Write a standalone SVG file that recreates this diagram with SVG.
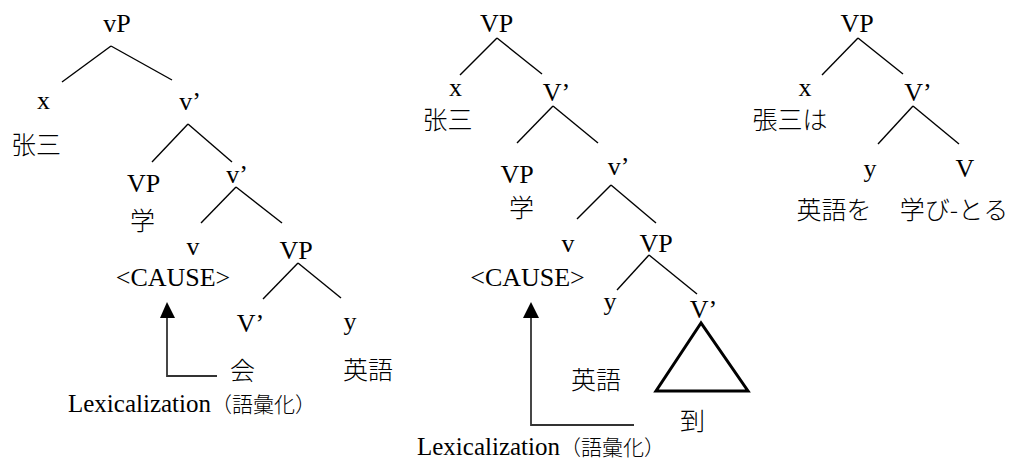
<svg xmlns="http://www.w3.org/2000/svg" width="1012" height="460" viewBox="0 0 1012 460">
<style>
text{font-family:"Liberation Serif","Noto Sans CJK JP",serif;font-size:26px;fill:#000;text-anchor:middle}
.cjk{font-family:"Noto Sans CJK JP","Noto Sans CJK SC",sans-serif;font-size:25px;font-weight:300}
.lab{text-anchor:start;font-size:25px}
.labc{font-family:"Noto Sans CJK JP",sans-serif;font-size:21px;font-weight:300}
.edge{stroke:#000;stroke-width:1.4;fill:none}
.arr{stroke:#333;stroke-width:1.8;fill:none}
.tri{stroke:#000;stroke-width:3;fill:none;stroke-linejoin:miter}
</style>
<rect width="1012" height="460" fill="#fff"/>
<g id="connectors">
<g class="edge">
<line x1="111" y1="46" x2="62" y2="82"/>
<line x1="111" y1="46" x2="172" y2="80"/>
<line x1="188" y1="124" x2="152" y2="162"/>
<line x1="188" y1="124" x2="232" y2="162"/>
<line x1="236" y1="187" x2="201" y2="223"/>
<line x1="236" y1="187" x2="282" y2="223"/>
<line x1="298" y1="263" x2="263" y2="299"/>
<line x1="298" y1="263" x2="341" y2="298"/>
<line x1="497" y1="38" x2="460" y2="75"/>
<line x1="497" y1="38" x2="542" y2="74"/>
<line x1="553" y1="106" x2="517" y2="143"/>
<line x1="553" y1="106" x2="598" y2="143"/>
<line x1="611" y1="185" x2="577" y2="219"/>
<line x1="611" y1="185" x2="656" y2="223"/>
<line x1="649" y1="255" x2="617" y2="290"/>
<line x1="649" y1="255" x2="697" y2="294"/>
<line x1="858" y1="38" x2="822" y2="75"/>
<line x1="858" y1="38" x2="903" y2="74"/>
<line x1="913" y1="106" x2="878" y2="144"/>
<line x1="913" y1="106" x2="959" y2="144"/>
</g>
<polygon class="tri" points="701,323 656,391 748,391"/>
<path class="arr" d="M217,376 H167 V316"/>
<polygon points="167,302 160,318 175,318" fill="#000"/>
<path class="arr" d="M634,425 H531 V316"/>
<polygon points="531,302 523,318 539,318" fill="#000"/>
</g>
<g id="tree1">
<g id="t1-vP"><text x="117" y="32">vP</text></g>
<g id="t1-x"><text x="43.5" y="109">x</text><text class="cjk" x="36" y="154">张三</text></g>
<g id="t1-v1"><text x="190" y="110">v’</text></g>
<g id="t1-VP"><text x="143.5" y="192">VP</text><text class="cjk" x="142.5" y="230">学</text></g>
<g id="t1-v2"><text x="237" y="183">v’</text></g>
<g id="t1-v"><text x="193" y="255">v</text><text x="173" y="286">&lt;CAUSE&gt;</text></g>
<g id="t1-VP2"><text x="296" y="259">VP</text></g>
<g id="t1-V1"><text x="250.5" y="332">V’</text><text class="cjk" x="242.5" y="380">会</text></g>
<g id="t1-y"><text x="350" y="330">y</text><text class="cjk" x="368" y="379">英語</text></g>
<g id="t1-label"><text class="lab" x="68" y="412">Lexicalization<tspan class="labc">（語彙化）</tspan></text></g>
</g>
<g id="tree2">
<g id="t2-VP"><text x="496.5" y="32">VP</text></g>
<g id="t2-x"><text x="455.5" y="96">x</text><text class="cjk" x="447.5" y="129">张三</text></g>
<g id="t2-V1"><text x="556.5" y="101">V’</text></g>
<g id="t2-VP2"><text x="517" y="183">VP</text><text class="cjk" x="521.5" y="217">学</text></g>
<g id="t2-v1"><text x="618.5" y="175">v’</text></g>
<g id="t2-v"><text x="568" y="252">v</text><text x="527.5" y="286">&lt;CAUSE&gt;</text></g>
<g id="t2-VP3"><text x="656" y="252">VP</text></g>
<g id="t2-y"><text x="610" y="310">y</text><text class="cjk" x="596" y="389">英語</text></g>
<g id="t2-V2"><text x="703.5" y="318">V’</text><text class="cjk" x="692.5" y="430">到</text></g>
<g id="t2-label"><text class="lab" x="417" y="455">Lexicalization<tspan class="labc">（語彙化）</tspan></text></g>
</g>
<g id="tree3">
<g id="t3-VP"><text x="857" y="32">VP</text></g>
<g id="t3-x"><text x="805" y="96">x</text><text class="cjk" x="790" y="129">張三は</text></g>
<g id="t3-V1"><text x="918" y="101">V’</text></g>
<g id="t3-y"><text x="870" y="177">y</text><text class="cjk" x="834" y="219">英語を</text></g>
<g id="t3-V"><text x="965" y="177">V</text><text class="cjk" x="954" y="219">学び-とる</text></g>
</g>
</svg>
